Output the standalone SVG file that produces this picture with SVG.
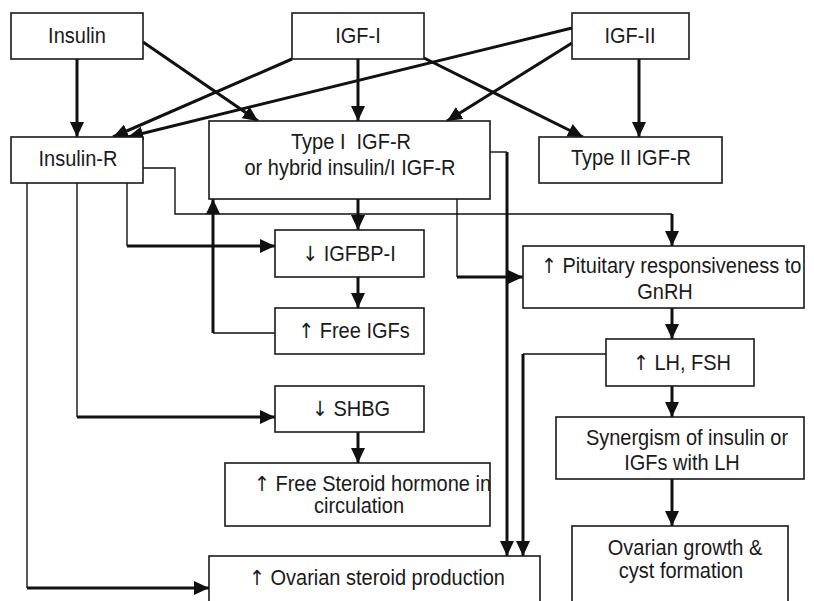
<svg xmlns="http://www.w3.org/2000/svg" width="814" height="601" viewBox="0 0 814 601">
<style>
.box{fill:#fff;stroke:#1a1a1a;stroke-width:1.6}
text{font-family:"Liberation Sans",Arial,sans-serif;font-size:20px;fill:#1a1a1a}
.ar{font-family:"DejaVu Sans",sans-serif;font-size:19px;fill:#1a1a1a}
.c{text-anchor:middle}
.thick{fill:none;stroke:#111;stroke-width:3}
.thin{fill:none;stroke:#111;stroke-width:1.4}
</style>
<defs>
<marker id="ah" markerUnits="userSpaceOnUse" markerWidth="16" markerHeight="14" refX="15" refY="7" orient="auto">
<path d="M0,0 L15,7 L0,14 z" fill="#111"/>
</marker>
</defs>
<rect width="814" height="601" fill="#fff"/>
<g id="connectors">
<line class="thick" x1="77" y1="59" x2="77" y2="137" marker-end="url(#ah)"/>
<line class="thick" x1="143" y1="42" x2="258" y2="121" marker-end="url(#ah)"/>
<line class="thick" x1="292" y1="59" x2="113" y2="137" marker-end="url(#ah)"/>
<line class="thick" x1="572" y1="28" x2="128" y2="137" marker-end="url(#ah)"/>
<line class="thick" x1="358" y1="59" x2="358" y2="121" marker-end="url(#ah)"/>
<line class="thick" x1="572" y1="43" x2="447" y2="121" marker-end="url(#ah)"/>
<line class="thick" x1="424" y1="58" x2="583" y2="137" marker-end="url(#ah)"/>
<line class="thick" x1="639" y1="59" x2="639" y2="137" marker-end="url(#ah)"/>
<polyline class="thin" points="143,168 175,168 175,214 672,214"/>
<line class="thick" x1="672" y1="214" x2="672" y2="246" marker-end="url(#ah)"/>
<line class="thin" x1="127" y1="183" x2="127" y2="246"/>
<line class="thick" x1="127" y1="246" x2="275" y2="246" marker-end="url(#ah)"/>
<line class="thin" x1="77" y1="183" x2="77" y2="417"/>
<line class="thick" x1="77" y1="417" x2="275" y2="417" marker-end="url(#ah)"/>
<line class="thin" x1="27" y1="183" x2="27" y2="588"/>
<line class="thick" x1="27" y1="588" x2="209" y2="588" marker-end="url(#ah)"/>
<line class="thick" x1="358" y1="199" x2="358" y2="230" marker-end="url(#ah)"/>
<line class="thick" x1="358" y1="277" x2="358" y2="308" marker-end="url(#ah)"/>
<line class="thin" x1="275" y1="333" x2="213" y2="333"/>
<line class="thick" x1="213" y1="333" x2="213" y2="199" marker-end="url(#ah)"/>
<line class="thin" x1="457" y1="199" x2="457" y2="277"/>
<line class="thick" x1="457" y1="277" x2="523" y2="277" marker-end="url(#ah)"/>
<line class="thin" x1="490" y1="152" x2="507" y2="152"/>
<line class="thick" x1="507" y1="152" x2="507" y2="556" marker-end="url(#ah)"/>
<line class="thin" x1="606" y1="354" x2="523" y2="354"/>
<line class="thick" x1="523" y1="354" x2="523" y2="556" marker-end="url(#ah)"/>
<line class="thick" x1="358" y1="432" x2="358" y2="463" marker-end="url(#ah)"/>
<line class="thick" x1="672" y1="308" x2="672" y2="339" marker-end="url(#ah)"/>
<line class="thick" x1="672" y1="386" x2="672" y2="417" marker-end="url(#ah)"/>
<line class="thick" x1="672" y1="479" x2="672" y2="526" marker-end="url(#ah)"/>
</g>
<g id="insulin"><rect class="box" x="11" y="13" width="132" height="46"/><text class="c" transform="translate(77,43) scale(1,1.1)">Insulin</text></g>
<g id="igf1"><rect class="box" x="292" y="13" width="132" height="46"/><text class="c" transform="translate(358,43) scale(1,1.1)">IGF-I</text></g>
<g id="igf2"><rect class="box" x="572" y="13" width="117" height="46"/><text class="c" transform="translate(630,43) scale(1,1.1)">IGF-II</text></g>
<g id="insulin-r"><rect class="box" x="11" y="137" width="132" height="46"/><text class="c" transform="translate(78,166) scale(1,1.1)">Insulin-R</text></g>
<g id="type1"><rect class="box" x="209" y="121" width="281" height="78"/><text class="c" transform="translate(351,149) scale(1,1.1)">Type I&#160; IGF-R</text><text class="c" transform="translate(350,175) scale(1,1.1)">or hybrid insulin/I IGF-R</text></g>
<g id="type2"><rect class="box" x="539" y="137" width="183" height="46"/><text class="c" transform="translate(631,165) scale(1,1.1)">Type II IGF-R</text></g>
<g id="igfbp"><rect class="box" x="275" y="230" width="149" height="47"/><text class="c" transform="translate(349,261) scale(1,1.1)"><tspan class="ar">↓</tspan> IGFBP-I</text></g>
<g id="freeigf"><rect class="box" x="275" y="308" width="149" height="46"/><text class="c" transform="translate(354,338) scale(1,1.1)"><tspan class="ar">↑</tspan> Free IGFs</text></g>
<g id="shbg"><rect class="box" x="275" y="386" width="149" height="46"/><text class="c" transform="translate(351,416) scale(1,1.1)"><tspan class="ar">↓</tspan> SHBG</text></g>
<g id="freesteroid"><rect class="box" x="225" y="463" width="265" height="63"/><text transform="translate(254,491) scale(1,1.1)"><tspan class="ar">↑</tspan> Free Steroid hormone in</text><text class="c" transform="translate(359,513) scale(1,1.1)">circulation</text></g>
<g id="ovsteroid"><rect class="box" x="209" y="556" width="331" height="52"/><text transform="translate(249,585) scale(1,1.1)"><tspan class="ar">↑</tspan> Ovarian steroid production</text></g>
<g id="pituitary"><rect class="box" x="523" y="246" width="281" height="62"/><text transform="translate(541,273) scale(1,1.1)"><tspan class="ar">↑</tspan> Pituitary responsiveness to</text><text class="c" transform="translate(665,299) scale(1,1.1)">GnRH</text></g>
<g id="lhfsh"><rect class="box" x="606" y="339" width="148" height="47"/><text class="c" transform="translate(682,370) scale(1,1.1)"><tspan class="ar">↑</tspan> LH, FSH</text></g>
<g id="synergism"><rect class="box" x="556" y="417" width="248" height="62"/><text class="c" transform="translate(687,445) scale(1,1.1)">Synergism of insulin or</text><text class="c" transform="translate(682,470) scale(1,1.1)">IGFs with LH</text></g>
<g id="ovgrowth"><rect class="box" x="572" y="526" width="216" height="82"/><text class="c" transform="translate(685,555) scale(1,1.1)">Ovarian growth &amp;</text><text class="c" transform="translate(681,578) scale(1,1.1)">cyst formation</text></g>
</svg>
